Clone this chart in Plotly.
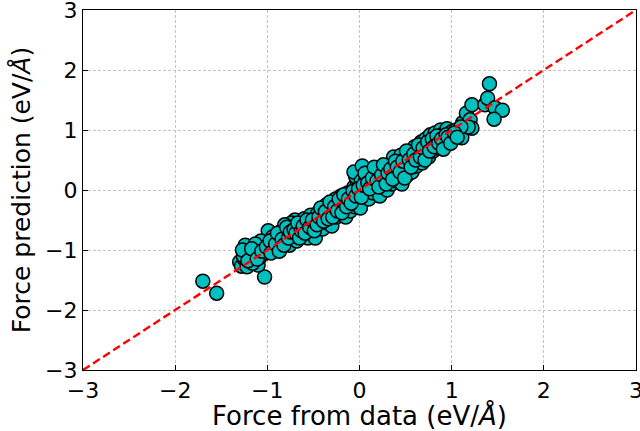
import plotly.graph_objects as go

force_data = [
    -1.70, -1.55, -1.03,
    -1.30, -1.28, -1.25, -1.22, -1.20, -1.24, -1.18, -1.15, -1.12, -1.10, -1.08, -1.05, -1.02, -1.00, -0.99, -1.07, -1.13, -1.16, -1.26,
    -0.95, -0.92, -0.90, -0.88, -0.85, -0.83, -0.80, -0.78, -0.76, -0.73, -0.72, -0.70, -0.68, -0.66, -0.64, -0.62, -0.60, -0.58, -0.56, -0.55, -0.53, -0.52, -0.50, -0.48, -0.47, -0.45, -0.74, -0.86, -0.94, -0.81,
    -0.43, -0.41, -0.40, -0.38, -0.36, -0.35, -0.33, -0.31, -0.30, -0.28, -0.26, -0.25, -0.23, -0.21, -0.20, -0.18, -0.16, -0.15, -0.13, -0.11, -0.10, -0.08, -0.06, -0.05, -0.03, -0.02, 0.00, 0.01, -0.04, -0.06,
    0.02, 0.03, 0.05, 0.07, 0.08, 0.10, 0.12, 0.13, 0.15, 0.17, 0.18, 0.20, 0.22, 0.23, 0.25, 0.27, 0.28, 0.30, 0.32, 0.33, 0.35, 0.37, 0.38, 0.40, 0.42, 0.43, 0.45, 0.46, 0.48, 0.50,
    0.52, 0.53, 0.55, 0.57, 0.58, 0.60, 0.62, 0.63, 0.65, 0.67, 0.68, 0.70, 0.72, 0.73, 0.75, 0.77, 0.78, 0.80, 0.82, 0.83, 0.85, 0.87, 0.88, 0.90, 0.92, 0.93, 0.95, 0.97, 0.98, 1.00,
    1.02, 1.05, 1.08, 1.11, 1.12, 1.16, 1.20, 1.22, 1.22, 1.36, 1.39, 1.41, 1.47, 1.55, 1.46, 1.18, 1.10,
]
force_pred = [
    -1.52, -1.72, -1.45,
    -1.20, -1.27, -1.15, -1.28, -1.05, -0.92, -1.20, -1.10, -0.98, -1.25, -1.12, -0.95, -1.05, -0.88, -0.68, -0.85, -0.90, -1.22, -1.10,
    -0.92, -1.00, -0.80, -0.88, -0.95, -0.75, -0.85, -0.70, -0.92, -0.62, -0.78, -0.50, -0.85, -0.68, -0.58, -0.75, -0.48, -0.65, -0.80, -0.55, -0.42, -0.70, -0.60, -0.80, -0.48, -0.38, -0.55, -0.70, -0.78, -0.58,
    -0.55, -0.35, -0.65, -0.45, -0.25, -0.55, -0.40, -0.30, -0.60, -0.35, -0.15, -0.45, -0.25, -0.40, -0.10, -0.30, -0.20, -0.45, -0.05, -0.25, -0.35, -0.12, 0.05, -0.28, -0.18, 0.10, -0.08, -0.30, 0.22, 0.30,
    0.15, 0.40, -0.05, 0.20, 0.05, -0.15, 0.30, 0.10, -0.05, 0.25, 0.08, 0.35, -0.10, 0.15, 0.05, 0.30, 0.18, 0.00, 0.40, 0.22, 0.10, 0.55, 0.30, 0.15, 0.45, 0.25, 0.58, 0.10, 0.35, 0.50,
    0.25, 0.40, 0.60, 0.30, 0.48, 0.72, 0.40, 0.55, 0.65, 0.80, 0.45, 0.60, 0.85, 0.70, 0.55, 0.92, 0.75, 0.65, 0.95, 0.80, 0.70, 0.88, 1.00, 0.75, 0.95, 0.85, 1.02, 0.80, 0.92, 0.97,
    0.85, 1.00, 0.92, 0.87, 1.12, 1.28, 1.17, 1.42, 1.03, 1.42, 1.53, 1.77, 1.37, 1.33, 1.18, 1.05, 1.05,
]
# second batch of read points (interior of the band)
force_data_b = [
    -1.27, -1.21, -1.17, -1.11, -1.06, -1.01, -0.97, -0.96, -0.91, -0.89, -0.87, -0.84, -0.82, -0.79, -0.77, -0.75, -0.71, -0.69, -0.67, -0.65,
    -0.63, -0.61, -0.59, -0.57, -0.54, -0.51, -0.49, -0.46, -0.44, -0.42, -0.39, -0.37, -0.34, -0.32, -0.29, -0.27, -0.24, -0.22, -0.19, -0.17,
    -0.14, -0.12, -0.09, -0.07, -0.04, -0.01, 0.02, 0.04, 0.06, 0.09, 0.11, 0.14, 0.16, 0.19, 0.21, 0.24, 0.26, 0.29, 0.31, 0.34,
    0.36, 0.39, 0.41, 0.44, 0.47, 0.49, 0.51, 0.54, 0.56, 0.59, 0.61, 0.64, 0.66, 0.69, 0.71, 0.74, 0.76, 0.79, 0.81, 0.84,
    0.86, 0.89, 0.91, 0.94, 0.96, 0.99, 1.03, 1.06,
]
force_pred_b = [
    -1.00, -1.18, -0.98, -1.15, -1.02, -0.95, -0.85, -1.05, -0.90, -0.72, -1.02, -0.82, -0.92, -0.62, -0.80, -0.70, -0.66, -0.72, -0.55, -0.80,
    -0.68, -0.60, -0.72, -0.50, -0.62, -0.50, -0.68, -0.58, -0.45, -0.30, -0.52, -0.36, -0.48, -0.20, -0.45, -0.28, -0.35, -0.15, -0.38, -0.08,
    -0.28, -0.15, -0.22, -0.02, -0.10, 0.02, -0.12, 0.08, 0.28, 0.12, 0.02, 0.20, 0.38, 0.15, 0.05, 0.25, 0.42, 0.10, 0.28, 0.35,
    0.18, 0.48, 0.38, 0.30, 0.48, 0.20, 0.65, 0.50, 0.38, 0.60, 0.50, 0.75, 0.55, 0.70, 0.50, 0.80, 0.65, 0.85, 0.72, 0.90,
    0.78, 0.85, 0.68, 0.92, 0.88, 0.78, 0.95, 0.88,
]
diag = [-3, 3]
ticks = [-3, -2, -1, 0, 1, 2, 3]

fig = go.Figure()
fig.add_trace(go.Scatter(
    x=force_data + force_data_b, y=force_pred + force_pred_b, mode="markers",
    marker=dict(size=14, color="#00BFBF", line=dict(color="black", width=1.5)),
    showlegend=False,
))
fig.add_trace(go.Scatter(
    x=diag, y=diag, mode="lines",
    line=dict(color="red", width=2.4, dash="8px,4px"),
    showlegend=False,
))

axis_common = dict(
    range=[-3, 3], tickvals=ticks, ticks="inside", ticklen=5, tickwidth=1,
    tickcolor="black", showline=True, linecolor="black", linewidth=1.3,
    mirror=True, showgrid=True, gridcolor="#c4c4c4", griddash="3px,2px",
    gridwidth=0.8, zeroline=False, ticklabeloverflow="allow", automargin=False,
    tickfont=dict(family="DejaVu Sans", size=22, color="black"),
)
fig.update_xaxes(**axis_common,
                 title=dict(text="Force from data (eV/<i>Å</i>)",
                            font=dict(family="DejaVu Sans", size=26, color="black"),
                            standoff=7))
fig.update_yaxes(**axis_common,
                 title=dict(text="Force prediction (eV/<i>Å</i>)",
                            font=dict(family="DejaVu Sans", size=25, color="black"),
                            standoff=7))
fig.update_layout(
    width=640, height=431,
    margin=dict(l=83, r=4, t=10, b=61),
    plot_bgcolor="white", paper_bgcolor="white",
)
fig.write_html("out.html")
